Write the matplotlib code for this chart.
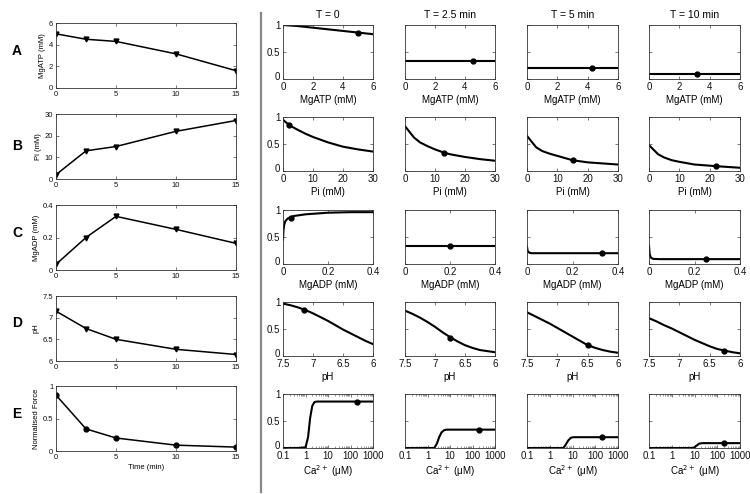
import numpy as np
import matplotlib
matplotlib.use('Agg')
import matplotlib.pyplot as plt
import matplotlib.transforms as mtrans

plt.rcParams['font.family'] = ['Liberation Sans', 'DejaVu Sans']

# time course (left column)
time = [0, 2.5, 5, 10, 15]
mgatp = [5.0, 4.5, 4.3, 3.15, 1.6]
pi = [2, 13, 15, 22, 27]
mgadp = [0.035, 0.2, 0.33, 0.25, 0.164]
ph = [7.15, 6.75, 6.5, 6.27, 6.15]
force = [0.86, 0.34, 0.2, 0.09, 0.06]

col_titles = ['T = 0', 'T = 2.5 min', 'T = 5 min', 'T = 10 min']

# force vs MgATP
atp_x = [[0, 1, 2, 3, 4, 5, 6], [0, 6], [0, 6], [0, 6]]
atp_y = [[1.0, 0.98, 0.95, 0.92, 0.89, 0.86, 0.83], [0.34, 0.34], [0.2, 0.2], [0.09, 0.09]]

# force vs Pi
pi_x = [[0, 1, 2, 3, 5, 7.5, 10, 15, 20, 25, 30],
        [0, 3, 5, 7.5, 10, 13, 15, 20, 25, 30],
        [0, 3, 5, 7.5, 10, 15, 20, 25, 30],
        [0, 3, 5, 7.5, 10, 15, 22, 26, 30]]
pi_y = [[0.95, 0.90, 0.86, 0.82, 0.76, 0.69, 0.63, 0.53, 0.45, 0.40, 0.36],
        [0.83, 0.62, 0.53, 0.46, 0.40, 0.34, 0.31, 0.26, 0.22, 0.19],
        [0.65, 0.44, 0.37, 0.32, 0.28, 0.20, 0.16, 0.14, 0.12],
        [0.48, 0.31, 0.25, 0.20, 0.17, 0.12, 0.09, 0.075, 0.06]]

# force vs MgADP
adp_x = [[0, 0.002, 0.005, 0.01, 0.02, 0.035, 0.05, 0.1, 0.2, 0.3, 0.4],
         [0, 0.4],
         [0, 0.003, 0.01, 0.02, 0.05, 0.4],
         [0, 0.003, 0.008, 0.018, 0.05, 0.4]]
adp_y = [[0.45, 0.62, 0.72, 0.79, 0.84, 0.87, 0.89, 0.92, 0.95, 0.96, 0.96],
         [0.34, 0.34],
         [0.32, 0.24, 0.21, 0.20, 0.20, 0.20],
         [0.34, 0.18, 0.12, 0.095, 0.09, 0.09]]

# force vs pH
ph_x = [7.5, 7.375, 7.25, 7.125, 7.0, 6.875, 6.75, 6.625, 6.5, 6.375, 6.25, 6.125, 6.0]
ph_y = [[0.97, 0.94, 0.90, 0.85, 0.79, 0.72, 0.65, 0.57, 0.49, 0.42, 0.35, 0.28, 0.22],
        [0.84, 0.78, 0.71, 0.63, 0.54, 0.44, 0.35, 0.27, 0.20, 0.15, 0.11, 0.09, 0.07],
        [0.81, 0.74, 0.67, 0.60, 0.52, 0.44, 0.36, 0.28, 0.20, 0.15, 0.11, 0.08, 0.06],
        [0.70, 0.64, 0.57, 0.51, 0.44, 0.37, 0.30, 0.24, 0.18, 0.13, 0.10, 0.07, 0.05]]

# force vs Ca2+
ca_x = [[0.1, 0.5, 1.0, 1.3, 1.6, 2.0, 2.5, 3.2, 10, 100, 1000],
        [0.1, 1, 2.0, 2.6, 3.3, 4.2, 5.5, 7, 100, 1000],
        [0.1, 1, 4, 5, 6.5, 8.5, 11, 100, 1000],
        [0.1, 1, 9, 12, 16, 22, 100, 1000]]
ca_y = [[0, 0, 0.01, 0.2, 0.55, 0.78, 0.85, 0.86, 0.86, 0.86, 0.86],
        [0, 0, 0, 0.08, 0.2, 0.29, 0.33, 0.34, 0.34, 0.34],
        [0, 0, 0, 0.06, 0.14, 0.19, 0.2, 0.2, 0.2],
        [0, 0, 0, 0.04, 0.08, 0.09, 0.09, 0.09]]
ca_now = 200

W, H = 750, 494
fig = plt.figure(figsize=(7.5, 4.94), dpi=100)

def rect(l, t, r, b):
    return [l / W, 1 - b / H, (r - l) / W, (b - t) / H]

def style(ax, fs):
    ax.tick_params(direction='in', top=True, right=True, labelsize=fs, length=2,
                   width=0.5, colors='#444444', labelcolor='#111111', pad=2)
    ax.tick_params(which='minor', direction='in', top=True, right=True, length=1.2,
                   width=0.4, colors='#444444')
    for s in ax.spines.values():
        s.set_linewidth(0.6)
        s.set_color('#333333')

# left column
rows_t = [(23, 88), (114, 179), (205, 270), (296, 361), (386, 451)]
left_data = [mgatp, pi, mgadp, ph, force]
left_lab = ['MgATP (mM)', 'Pi (mM)', 'MgADP (mM)', 'pH', 'Normalised Force']
left_ylim = [(0, 6), (0, 30), (0, 0.4), (6, 7.5), (0, 1)]
left_yt = [[0, 2, 4, 6], [0, 10, 20, 30], [0, 0.2, 0.4], [6, 6.5, 7, 7.5], [0, 0.5, 1]]
left_ytl = [['0', '2', '4', '6'], ['0', '10', '20', '30'], ['0', '0.2', '0.4'],
            ['6', '6.5', '7', '7.5'], ['0', '0.5', '1']]
letters = ['A', 'B', 'C', 'D', 'E']
letter_y = [51, 146, 233, 323, 414]
for i in range(5):
    ax = fig.add_axes(rect(56, rows_t[i][0], 236, rows_t[i][1]))
    mk = 'o' if i == 4 else 'v'
    ax.plot(time, left_data[i], color='black', lw=1.1, marker=mk, ms=3.5)
    ax.set_xlim(0, 15)
    ax.set_ylim(*left_ylim[i])
    ax.set_xticks([0, 5, 10, 15])
    ax.set_yticks(left_yt[i])
    ax.set_yticklabels(left_ytl[i])
    ax.set_ylabel(left_lab[i], fontsize=5.5, labelpad=2)
    style(ax, 5.5)
    if i == 4:
        ax.set_xlabel('Time (min)', fontsize=5.5, labelpad=2)
    fig.text(17 / W, 1 - letter_y[i] / H, letters[i], fontsize=10, fontweight='bold',
             ha='center', va='center')

# separator
fig.add_artist(plt.Line2D([261 / W, 261 / W], [1 - 13 / H, 1 - 492 / H],
                          color='#888888', lw=1.6))

# right grid
lefts = [283, 405, 527, 649]
rights = [373, 495, 618, 740]
rrows = [(25, 79), (117, 171), (210, 264), (302, 356), (394, 448)]
now_vals = [mgatp[:4], pi[:4], mgadp[:4], ph[:4]]
xlabels = ['MgATP (mM)', 'Pi (mM)', 'MgADP (mM)', 'pH', 'Ca$^{2+}$ (μM)']
nudge = mtrans.ScaledTranslation(0, 3 / 100, fig.dpi_scale_trans)
for c in range(4):
    fig.text((lefts[c] + rights[c]) / 2 / W, 1 - 15 / H, col_titles[c], fontsize=7.5,
             ha='center', va='center')
    for r in range(5):
        ax = fig.add_axes(rect(lefts[c], rrows[r][0], rights[c], rrows[r][1]))
        if r == 0:
            xs, ys = atp_x[c], atp_y[c]
            ax.set_xlim(0, 6); ax.set_xticks([0, 2, 4, 6])
        elif r == 1:
            xs, ys = pi_x[c], pi_y[c]
            ax.set_xlim(0, 30); ax.set_xticks([0, 10, 20, 30])
        elif r == 2:
            xs, ys = adp_x[c], adp_y[c]
            ax.set_xlim(0, 0.4); ax.set_xticks([0, 0.2, 0.4])
            ax.set_xticklabels(['0', '0.2', '0.4'])
        elif r == 3:
            xs, ys = ph_x, ph_y[c]
            ax.set_xlim(7.5, 6); ax.set_xticks([7.5, 7, 6.5, 6])
            ax.set_xticklabels(['7.5', '7', '6.5', '6'])
        else:
            xs, ys = ca_x[c], ca_y[c]
            ax.set_xscale('log')
            ax.set_xlim(0.1, 1000)
            ax.set_xticks([0.1, 1, 10, 100, 1000])
            ax.set_xticklabels(['0.1', '1', '10', '100', '1000'])
        ax.plot(xs, ys, color='black', lw=1.5)
        if r < 4:
            ax.plot(now_vals[r][c], force[c], 'o', color='black', ms=3.5)
        else:
            ax.plot(ca_now, force[c], 'o', color='black', ms=3.5)
        ax.set_ylim(0, 1)
        ax.set_yticks([0, 0.5, 1])
        ax.set_xlabel(xlabels[r], fontsize=7, labelpad=2)
        style(ax, 7)
        if c == 0:
            ax.set_yticklabels(['0', '0.5', '1'])
            lab0 = ax.yaxis.get_major_ticks()[0].label1
            lab0.set_transform(lab0.get_transform() + nudge)
        else:
            ax.set_yticklabels([])

fig.savefig('out.png', dpi=100)
